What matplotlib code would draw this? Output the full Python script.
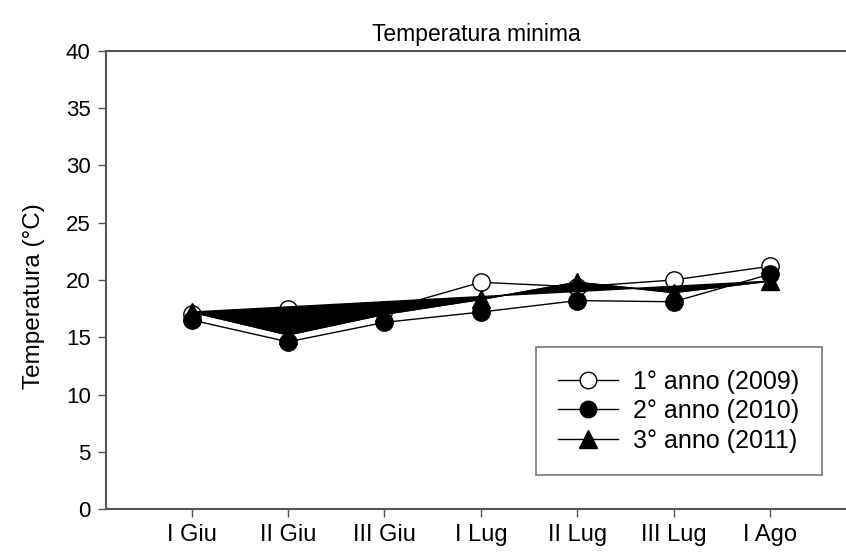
import numpy as np
import matplotlib.pyplot as plt

plt.rcParams['font.family'] = ['Liberation Sans', 'DejaVu Sans']

##Dati
decadi = ["I Giu", "II Giu", "III Giu", "I Lug", "II Lug", "III Lug", "I Ago"]
t2009 = [17.0, 17.5, 17.4, 19.8, 19.4, 20.0, 21.2]
t2010 = [16.5, 14.6, 16.3, 17.2, 18.2, 18.1, 20.5]
t2011 = [17.2, 15.2, 17.0, 18.3, 19.8, 18.9, 19.9]

x = np.arange(len(decadi))

fig = plt.figure(figsize=(8.46, 5.54), dpi=100)
ax = fig.add_axes([0.1253, 0.0812, 0.8747, 0.8268])

ax.plot(x, t2009, "k-", lw=1, marker="o", ms=12.5, mfc="white", mec="black",
        mew=1, label="1° anno (2009)", zorder=2)
ax.fill(x, t2011, color="black", zorder=3)
ax.plot(x, t2011, "k-", lw=1, marker="^", ms=13, mfc="black", mec="black",
        label="3° anno (2011)", zorder=3)
ax.plot(x, t2010, "k-", lw=1, marker="o", ms=12.5, mfc="black", mec="black",
        label="2° anno (2010)", zorder=4)

ax.set_xlim(-0.89, 6.79)
ax.set_ylim(0, 40)
ax.set_yticks(np.arange(0, 41, 5))
ax.set_xticks(x)
ax.set_xticklabels(decadi)

for s in ["left", "bottom", "top"]:
    ax.spines[s].set_color("#555555")
    ax.spines[s].set_linewidth(1.5)
ax.spines["right"].set_visible(False)
ax.tick_params(direction="out", length=6, width=1, color="#555555",
               labelsize=16, pad=5)
ax.tick_params(axis="x", labelsize=17)

ax.set_title("Temperatura minima", fontsize=16.5, pad=7)
ax.set_ylabel("Temperatura (°C)", fontsize=17.5)
ax.yaxis.set_label_coords(-0.083, 0.465)

h, l = ax.get_legend_handles_labels()
order = [0, 2, 1]
leg = ax.legend([h[i] for i in order], [l[i] for i in order],
                loc="lower right", bbox_to_anchor=(0.9676, 0.074),
                borderaxespad=0, fontsize=18, fancybox=False,
                edgecolor="#555555", handlelength=2.4, markerscale=0.95,
                borderpad=0.9, labelspacing=0.22, handletextpad=0.6)
leg.get_frame().set_linewidth(1.2)

fig.savefig("out.png", dpi=100)
